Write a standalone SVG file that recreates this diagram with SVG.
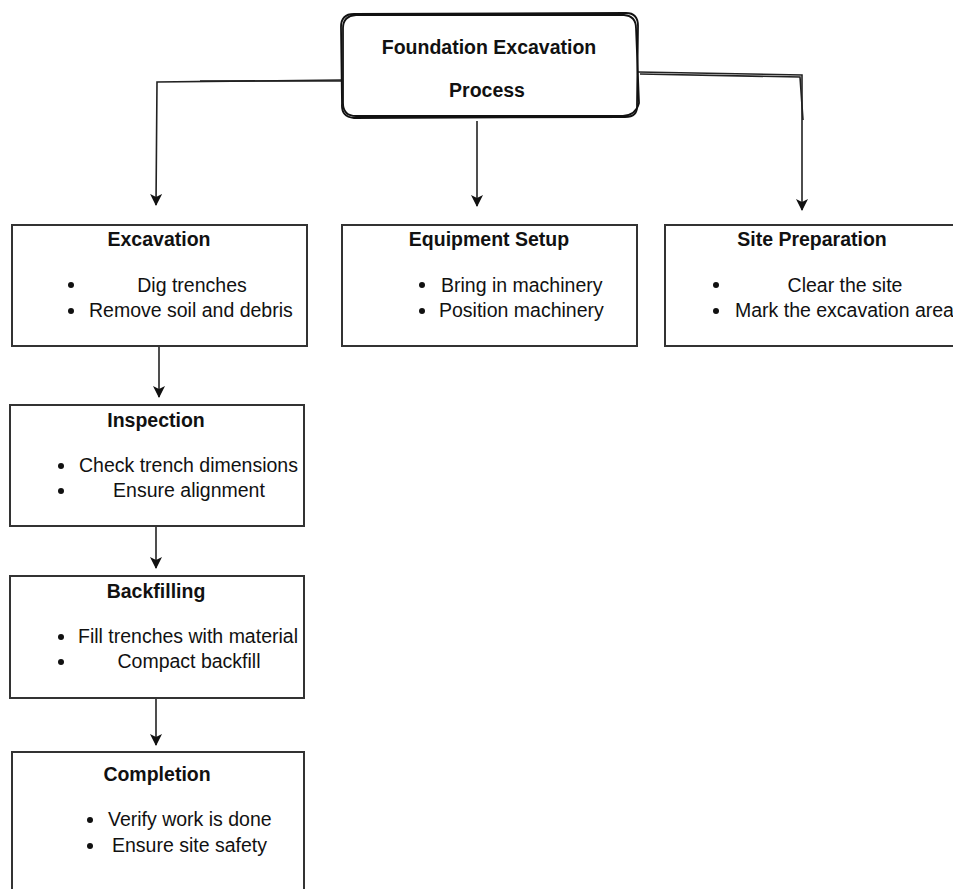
<svg xmlns="http://www.w3.org/2000/svg" width="953" height="889" viewBox="0 0 953 889">
<defs>
<style>
.box{fill:#fff;stroke:#333;stroke-width:2}
.t{font-family:"Liberation Sans",Arial,sans-serif;font-size:19.5px;fill:#111}
.b{font-weight:bold}
.c{text-anchor:middle}
.ln{fill:none;stroke:#222;stroke-width:1.6}
.sk{fill:none;stroke:#111;stroke-width:1.8;stroke-linejoin:round;stroke-linecap:round}
</style>
<marker id="ar" viewBox="0 0 12 12" refX="11" refY="6" markerWidth="12" markerHeight="12" markerUnits="userSpaceOnUse" orient="auto">
<path d="M0,0 L12,6 L0,12 L3,6 Z" fill="#111"/>
</marker>
</defs>
<rect width="953" height="889" fill="#fff"/>
<g id="connectors">
<path class="ln" d="M341,80 L157,82 L156,205" marker-end="url(#ar)"/>
<path class="ln" d="M342,81 L200,81" stroke-width="1"/>
<path class="ln" d="M477,121 L477,206" marker-end="url(#ar)"/>
<path class="ln" d="M638,72 L802,75 L802,210" marker-end="url(#ar)"/>
<path class="ln" d="M640,74 L800,77 L803,120" stroke-width="1"/>
<path class="ln" d="M159,347 L159,397" marker-end="url(#ar)"/>
<path class="ln" d="M156,527 L156,568" marker-end="url(#ar)"/>
<path class="ln" d="M156,699 L156,745" marker-end="url(#ar)"/>
</g>
<g id="root">
<path d="M354,14 L626,13 Q638,13 638,26 L637,105 Q638,117 625,117 L354,118 Q341,117 342,104 L341,27 Q341,14 354,14 Z" fill="#fff" class="sk"/>
<path d="M356,15 L624,15 Q636,16 636,28 L639,103 Q636,115 623,116 L356,116 Q343,116 343,103 L343,28 Q343,16 356,15 Z" class="sk" stroke-width="1.2"/>
<text class="t b c" x="489" y="54">Foundation Excavation</text>
<text class="t b c" x="487" y="97">Process</text>
</g>
<g id="excavation">
<rect class="box" x="12" y="225" width="295" height="121"/>
<text class="t b c" x="159" y="246">Excavation</text>
<circle cx="71" cy="285" r="3" fill="#111"/>
<circle cx="71" cy="311" r="3" fill="#111"/>
<text class="t c" x="192" y="292">Dig trenches</text>
<text class="t" x="89" y="317">Remove soil and debris</text>
</g>
<g id="equipment">
<rect class="box" x="342" y="225" width="295" height="121"/>
<text class="t b c" x="489" y="246">Equipment Setup</text>
<circle cx="422" cy="285" r="3" fill="#111"/>
<circle cx="422" cy="311" r="3" fill="#111"/>
<text class="t" x="441" y="292">Bring in machinery</text>
<text class="t" x="439" y="317">Position machinery</text>
</g>
<g id="site">
<rect class="box" x="665" y="225" width="300" height="121"/>
<text class="t b c" x="812" y="246">Site Preparation</text>
<circle cx="716" cy="285" r="3" fill="#111"/>
<circle cx="716" cy="311" r="3" fill="#111"/>
<text class="t c" x="845" y="292">Clear the site</text>
<text class="t" x="735" y="317">Mark the excavation area</text>
</g>
<g id="inspection">
<rect class="box" x="10" y="405" width="294" height="121"/>
<text class="t b c" x="156" y="427">Inspection</text>
<circle cx="61" cy="466" r="3" fill="#111"/>
<circle cx="61" cy="491" r="3" fill="#111"/>
<text class="t" x="79" y="472">Check trench dimensions</text>
<text class="t c" x="189" y="497">Ensure alignment</text>
</g>
<g id="backfilling">
<rect class="box" x="10" y="576" width="294" height="122"/>
<text class="t b c" x="156" y="598">Backfilling</text>
<circle cx="61" cy="637" r="3" fill="#111"/>
<circle cx="61" cy="662" r="3" fill="#111"/>
<text class="t" x="78" y="643">Fill trenches with material</text>
<text class="t c" x="189" y="668">Compact backfill</text>
</g>
<g id="completion">
<rect class="box" x="12" y="752" width="292" height="160"/>
<text class="t b c" x="157" y="781">Completion</text>
<circle cx="90" cy="820" r="3" fill="#111"/>
<circle cx="90" cy="846" r="3" fill="#111"/>
<text class="t" x="108" y="826">Verify work is done</text>
<text class="t" x="112" y="852">Ensure site safety</text>
</g>
</svg>
